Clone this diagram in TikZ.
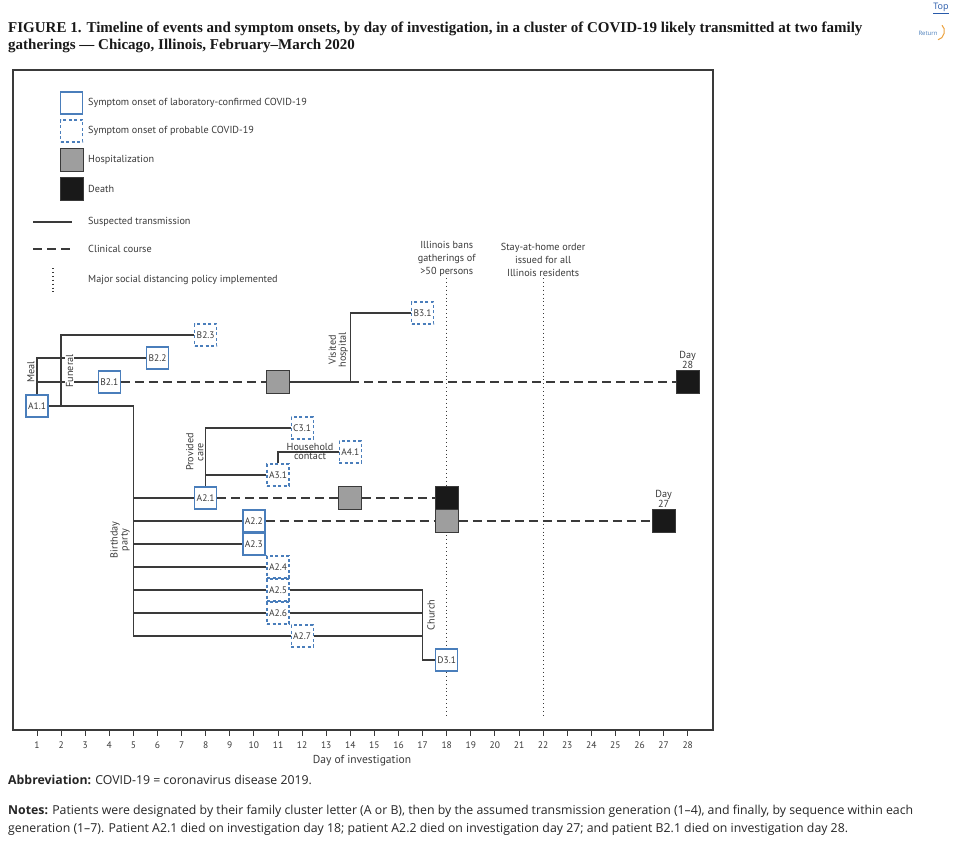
\documentclass[tikz,border=0pt]{standalone}
\usepackage{fontspec}
\setmainfont{PT Sans}
\newfontfamily\titlefont{Liberation Serif}
\newfontfamily\notefont{Open Sans}
\usetikzlibrary{positioning}
\definecolor{boxblue}{RGB}{74,126,187}
\definecolor{linegray}{RGB}{58,58,58}
\definecolor{linkblue}{RGB}{40,90,170}
\definecolor{returnorange}{RGB}{236,162,62}

\begin{document}
\begin{tikzpicture}[x=1pt,y=-1pt,
    conf/.style={draw=boxblue,line width=1.2pt,fill=white,minimum size=22pt,inner sep=0pt,text=linegray,font=\fontsize{9.5}{10}\selectfont},
    prob/.style={conf,dash pattern=on 3pt off 2.5pt},
    hosp/.style={draw=linegray,line width=1.2pt,fill=black!38,minimum size=23pt,inner sep=0pt},
    death/.style={hosp,fill=black!90},
    trans/.style={draw=linegray,line width=1.3pt},
    course/.style={trans,dash pattern=on 9pt off 5pt},
    policy/.style={draw=linegray,line width=1.1pt,dash pattern=on 0.9pt off 3pt},
    lbl/.style={font=\fontsize{10.2}{10}\selectfont,text=linegray,align=center,inner sep=1pt},
    vlbl/.style={lbl,rotate=90,fill=white}]

\useasboundingbox (0,0) rectangle (959,856);
\fill[white] (0,0) rectangle (959,856);

\node[anchor=north west,inner sep=0pt,align=left,text=black!90,font=\titlefont\bfseries\fontsize{15}{17}\selectfont] (title) at (8,22)
    {FIGURE 1. Timeline of events and symptom onsets, by day of investigation, in a cluster of COVID-19 likely transmitted at two family\\gatherings — Chicago, Illinois, February–March 2020};
\node[text=linkblue,font=\notefont\fontsize{9}{10}\selectfont,anchor=north] (top) at (941,0) {\underline{Top}};
\node[text=boxblue,font=\notefont\fontsize{6}{7}\selectfont] (ret) at (928,33) {Return};
\draw[returnorange,line width=1pt] ([xshift=1pt,yshift=2pt]ret.north east) to[bend left=70] ([xshift=-3pt,yshift=-1pt]ret.south east);

\draw[draw=linegray,line width=1.3pt] (13,70) rectangle (713,730);

\begin{scope}[every node/.style={lbl,anchor=west}]
    \node[conf] (legconf) at (60,103) {};
    \node[prob] (legprob) at (60,131) {};
    \node[hosp] (leghosp) at (60,160) {};
    \node[death] (legdeath) at (60,189) {};
    \node (legconftxt) at (87,103) {Symptom onset of laboratory-confirmed COVID-19};
    \node (legprobtxt) at (87,131) {Symptom onset of probable COVID-19};
    \node (leghosptxt) at (87,160) {Hospitalization};
    \node (legdeathtxt) at (87,189) {Death};
    \node (legtranstxt) at (87,222) {Suspected transmission};
    \node (legcoursetxt) at (87,249) {Clinical course};
    \node (legpolicytxt) at (87,280) {Major social distancing policy implemented};
\end{scope}
\coordinate (legtransa) at (33,222);
\coordinate (legtransb) at (72,222);
\coordinate (legcoursea) at (33,249);
\coordinate (legcourseb) at (72,249);
\coordinate (legpolicya) at (53,268);
\coordinate (legpolicyb) at (53,293);
\draw[trans] (legtransa) -- (legtransb);
\draw[course] (legcoursea) -- (legcourseb);
\draw[policy] (legpolicya) -- (legpolicyb);

\begin{scope}[shift={(12.9,0)},x=24.1pt]
    \coordinate (ban) at (18,278);
    \coordinate (banbot) at (18,718);
    \coordinate (stay) at (22,278);
    \coordinate (staybot) at (22,718);
    \draw[policy] (ban) -- (banbot);
    \draw[policy] (stay) -- (staybot);
    \node[lbl,anchor=south,font=\fontsize{10.2}{13}\selectfont] (banlbl) at (ban) {Illinois bans\\gatherings of\\>50 persons};
    \node[lbl,anchor=south,font=\fontsize{10.2}{13}\selectfont] (staylbl) at (stay) {Stay-at-home order\\issued for all\\Illinois residents};

    \node[conf] (A11) at (1,406) {A1.1};
    \node[conf] (B21) at (4,382) {B2.1};
    \node[hosp] (B21h) at (11,382) {};
    \node[death] (B21d) at (28,382) {};
    \node[conf] (B22) at (6,358) {B2.2};
    \node[prob] (B23) at (8,335) {B2.3};
    \node[prob] (B31) at (17,313) {B3.1};
    \node[prob] (C31) at (12,428) {C3.1};
    \node[prob] (A41) at (14,452) {A4.1};
    \node[prob] (A31) at (11,475) {A3.1};
    \node[conf] (A21) at (8,498) {A2.1};
    \node[hosp] (A21h) at (14,498) {};
    \node[death] (A21d) at (18,498) {};
    \node[conf] (A22) at (10,521) {A2.2};
    \node[hosp] (A22h) at (18,521) {};
    \node[death] (A22d) at (27,521) {};
    \node[conf] (A23) at (10,544) {A2.3};
    \node[prob] (A24) at (11,567) {A2.4};
    \node[prob] (A25) at (11,590) {A2.5};
    \node[prob] (A26) at (11,613) {A2.6};
    \node[prob] (A27) at (12,636) {A2.7};
    \node[conf] (D31) at (18,660) {D3.1};

    \coordinate (meal) at (1,358);
    \coordinate (funtop) at (2,335);
    \coordinate (funbot) at (2,406);
    \coordinate (bday) at (5,406);
    \coordinate (bdaybot) at (5,636);
    \coordinate (visit) at (14,382);
    \coordinate (visittop) at (14,313);
    \coordinate (care) at (8,428);
    \coordinate (house) at (11,452);
    \coordinate (church) at (17,590);
    \coordinate (churchbot) at (17,660);

    \draw[trans] (A11.north) -- (meal) -- (B22.west);
    \draw[trans] (A11.north |- B21) -- (B21.west);
    \draw[trans] (funbot) -- (funtop) -- (B23.west);
    \draw[trans] (A11.east) -- (bday) -- (bdaybot) -- (A27.west);
    \foreach \n in {A21,A22,A23,A24,A25,A26}
        \draw[trans] (bday |- \n) -- (\n.west);
    \draw[course] (B21.east) -- (B21h.west);
    \draw[trans] (B21h.east) -- (visit) -- (visittop) -- (B31.west);
    \draw[course] (visit) -- (B21d.west);
    \draw[trans] (A21.north) -- (care) -- (C31.west);
    \draw[trans] (A21.north |- A31) -- (A31.west);
    \draw[trans] (A31.north) -- (house) -- (A41.west);
    \draw[course] (A21.east) -- (A21h.west);
    \draw[course] (A21h.east) -- (A21d.west);
    \draw[course] (A22.east) -- (A22h.west);
    \draw[course] (A22h.east) -- (A22d.west);
    \draw[trans] (A25.east) -- (church) -- (churchbot) -- (D31.west);
    \draw[trans] (A26.east) -- (A26.east -| church);
    \draw[trans] (A27.east) -- (A27.east -| church);

    \node[vlbl] (meallbl) at (0.75,372) {Meal};
    \node[vlbl] (funlbl) at (2.35,371) {Funeral};
    \node[vlbl,fill=none] (visitlbl) at (13.5,350) {Visited\\hospital};
    \node[vlbl,fill=none] (carelbl) at (7.55,452) {Provided\\care};
    \node[vlbl,fill=none] (bdaylbl) at (4.45,540) {Birthday\\party};
    \node[vlbl,fill=none] (churchlbl) at (17.35,615) {Church};
    \node[lbl,anchor=south] (houselbl) at (12.33,452) {Household};
    \node[lbl,anchor=north] (contactlbl) at (12.33,452) {contact};
    \node[lbl,anchor=south] (day28) at (B21d.north) {Day\\28};
    \node[lbl,anchor=south] (day27) at (A22d.north) {Day\\27};

    \foreach \d in {1,...,28} {
        \coordinate (tick\d) at (\d,730);
        \draw[linegray,line width=1pt] (tick\d) -- ++(0,6);
        \node[lbl,font=\fontsize{9.5}{10}\selectfont] (daynum\d) at (\d,745) {\d};
    }
\end{scope}
\node[lbl,font=\fontsize{11.5}{12}\selectfont] (axislbl) at (362,761) {Day of investigation};

\node[anchor=north west,inner sep=0pt,align=left,text=black!85,font=\notefont\fontsize{12.3}{18}\selectfont] (abbr) at (8,775)
    {\textbf{Abbreviation:} COVID-19 = coronavirus disease 2019.};
\node[anchor=north west,inner sep=0pt,align=left,text=black!85,font=\notefont\fontsize{12.3}{18}\selectfont] (notes) at (8,805)
    {\textbf{Notes:} Patients were designated by their family cluster letter (A or B), then by the assumed transmission generation (1–4), and finally, by sequence within each\\generation (1–7). Patient A2.1 died on investigation day 18; patient A2.2 died on investigation day 27; and patient B2.1 died on investigation day 28.};
\end{tikzpicture}
\end{document}
